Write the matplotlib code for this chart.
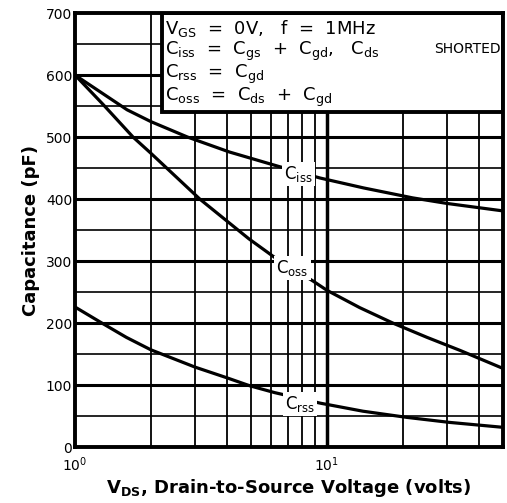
#!/usr/bin/env python3
import matplotlib.pyplot as plt
from matplotlib.patches import Rectangle
from matplotlib.ticker import FixedLocator, NullFormatter

# values
vds_iss = [1.0, 1.61, 2.0, 2.8, 4.1, 6.4, 9.4, 14.0, 21.9, 30.0, 50]
ciss = [600, 544, 525, 500, 476, 453, 434, 418, 402, 393, 381]

vds_oss = [1.0, 1.29, 1.7, 2.0, 3.13, 4.9, 6.2, 8.8, 10.0, 13.5, 18.3, 25.0, 33.8, 50]
coss = [600, 553, 500, 474, 400, 336, 306, 268, 253, 225, 200, 177, 156, 127]

vds_rss = [1.0, 1.28, 1.6, 2.0, 3.0, 4.0, 4.94, 6.2, 9.4, 13.9, 20.8, 30.6, 50]
crss = [226, 200, 177, 157, 129, 112, 99, 88, 71, 58, 48, 40, 32]

fig = plt.figure(figsize=(5.07, 5.03), dpi=100)
ax = fig.add_axes([0.148, 0.111, 0.844, 0.863])

ax.set_xscale("log")
ax.set_xlim(1, 50)
ax.set_ylim(0, 700)

#Grid lines
for y in range(100, 700, 100):
    ax.axhline(y, color="black", lw=2.2, zorder=1)
for y in range(50, 700, 100):
    ax.axhline(y, color="black", lw=1.2, zorder=1)
for x in [2, 3, 4, 5, 6, 7, 8, 9, 20, 30, 40]:
    ax.axvline(x, color="black", lw=1.3, zorder=1)
ax.axvline(10, color="black", lw=2.5, zorder=1)

#Curves
for xs, ys in [(vds_iss, ciss), (vds_oss, coss), (vds_rss, crss)]:
    ax.plot(xs, ys, color="black", lw=2.3, zorder=3, solid_joinstyle="round")

#Curve labels
lbl = dict(ha="center", va="center", fontsize=12, zorder=4,
           bbox=dict(facecolor="white", edgecolor="none", pad=1.5))
ax.text(7.7, 440, r"$\mathregular{C_{iss}}$", **lbl)
ax.text(7.3, 289, r"$\mathregular{C_{oss}}$", **lbl)
ax.text(7.8, 70, r"$\mathregular{C_{rss}}$", **lbl)

#Conditions box
ax.add_patch(Rectangle((0.203, 0.772), 0.797, 0.228, transform=ax.transAxes,
                       facecolor="white", edgecolor="black", lw=2.8, zorder=5))
box_lines = [
    r"$\mathregular{V_{GS}}$  =  0V,   f  =  1MHz",
    r"$\mathregular{C_{iss}}$  =  $\mathregular{C_{gs}}$  +  $\mathregular{C_{gd}}$,   $\mathregular{C_{ds}}$",
    r"$\mathregular{C_{rss}}$  =  $\mathregular{C_{gd}}$",
    r"$\mathregular{C_{oss}}$  =  $\mathregular{C_{ds}}$  +  $\mathregular{C_{gd}}$",
]
box_y = [0.965, 0.912, 0.858, 0.805]
for txt, yy in zip(box_lines, box_y):
    ax.text(0.21, yy, txt, transform=ax.transAxes, ha="left", va="center",
            fontsize=13, zorder=6)
ax.text(0.995, 0.917, "SHORTED", transform=ax.transAxes, ha="right",
        va="center", fontsize=10, zorder=6)

#Ticks
ax.xaxis.set_major_locator(FixedLocator([1, 10]))
ax.xaxis.set_minor_formatter(NullFormatter())
ax.set_xticklabels([r"$10^0$", r"$10^1$"])
ax.tick_params(axis="x", which="both", length=0, pad=6, labelsize=10)
ax.set_yticks(range(0, 701, 100))
ax.tick_params(axis="y", length=0, pad=2, labelsize=10)

for s in ax.spines.values():
    s.set_linewidth(2.8)
    s.set_zorder(7)

ax.set_ylabel("Capacitance (pF)", fontsize=13, fontweight="bold", labelpad=4)
ax.set_xlabel(r"$\mathbf{V_{DS}}$, Drain-to-Source Voltage (volts)",
              fontsize=13, fontweight="bold", labelpad=2)

plt.savefig("out.png", dpi=100)
